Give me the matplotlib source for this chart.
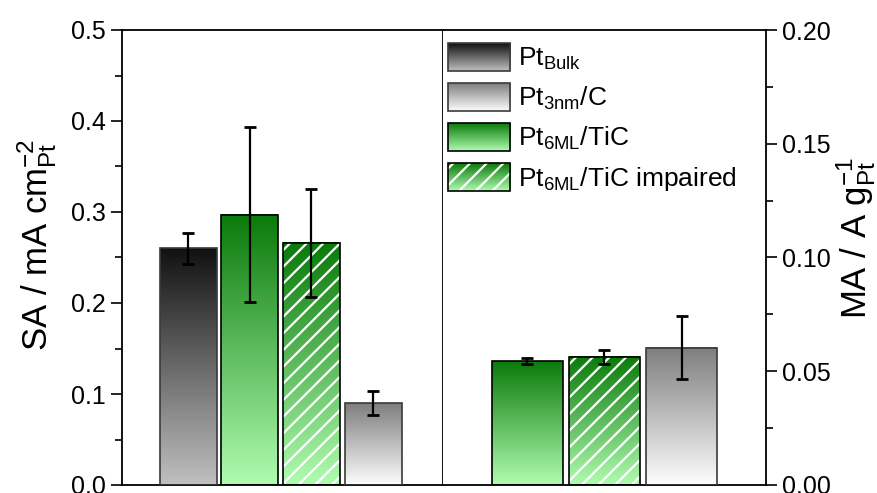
import numpy as np
import matplotlib
matplotlib.use("Agg")
import matplotlib.pyplot as plt
from matplotlib.patches import Rectangle
from matplotlib.legend_handler import HandlerBase
from matplotlib.image import BboxImage
from matplotlib.transforms import Bbox, TransformedBbox
from matplotlib.colors import to_rgb
from matplotlib.ticker import MultipleLocator, FormatStrFormatter

plt.rcParams['font.family'] = ['Liberation Sans', 'DejaVu Sans']
plt.rcParams['mathtext.fontset'] = 'custom'
plt.rcParams['mathtext.rm'] = 'Liberation Sans'
plt.rcParams['mathtext.it'] = 'Liberation Sans'
plt.rcParams['mathtext.bf'] = 'Liberation Sans:bold'
plt.rcParams['mathtext.default'] = 'regular'
plt.rcParams['hatch.linewidth'] = 1.6

# specific activity, left panel
sa_names = ['bulk', 'tic', 'tic_imp', 'c3nm']
sa_vals = [0.260, 0.297, 0.266, 0.090]
sa_err = [0.017, 0.096, 0.059, 0.013]

# mass activity, right panel
ma_names = ['tic', 'tic_imp', 'c3nm']
ma_vals = [0.0544, 0.0563, 0.0604]
ma_err = [0.0013, 0.0032, 0.0137]

legend_names = ['bulk', 'c3nm', 'tic', 'tic_imp']
legend_labels = ['Pt$_{Bulk}$', 'Pt$_{3nm}$/C', 'Pt$_{6ML}$/TiC', 'Pt$_{6ML}$/TiC impaired']

styles = {
    'bulk':    {'top': '#111111', 'bottom': '#c0c0c0', 'edge': '#3a3a3a', 'hatch': False},
    'c3nm':    {'top': '#7e7e7e', 'bottom': '#fdfdfd', 'edge': '#3a3a3a', 'hatch': False},
    'tic':     {'top': '#0a7a0a', 'bottom': '#b0fcb0', 'edge': '#000000', 'hatch': False},
    'tic_imp': {'top': '#0a7a0a', 'bottom': '#b0fcb0', 'edge': '#000000', 'hatch': True},
}


def grad(name, n=256):
    top = np.array(to_rgb(styles[name]['top']))
    bot = np.array(to_rgb(styles[name]['bottom']))
    t = np.linspace(0, 1, n)[:, None, None]
    return (1 - t) * top + t * bot


def draw_bars(ax, vals, errs, names, width):
    x = np.arange(len(vals))
    bars = ax.bar(x, vals, width, facecolor='none', linewidth=1.2, zorder=3)
    for b, n in zip(bars, names):
        b.set_edgecolor(styles[n]['edge'])
        x0, w, h = b.get_x(), b.get_width(), b.get_height()
        ax.imshow(grad(n), extent=(x0, x0 + w, 0, h), aspect='auto',
                  interpolation='bilinear', zorder=2)
        if styles[n]['hatch']:
            ax.bar(x0 + w / 2, h, w, facecolor='none', edgecolor='white',
                   hatch='//', linewidth=0, zorder=2.5)
    ax.errorbar(x, vals, yerr=errs, fmt='none', ecolor='black',
                elinewidth=1.6, capsize=4, capthick=2, zorder=4)


class GradHandler(HandlerBase):
    def create_artists(self, legend, orig_handle, xdescent, ydescent,
                       width, height, fontsize, trans):
        n = orig_handle.get_gid()
        box = Bbox.from_bounds(-xdescent, -ydescent, width, height)
        img = BboxImage(TransformedBbox(box, trans), interpolation='bilinear')
        img.set_data(grad(n))
        arts = [img]
        if styles[n]['hatch']:
            arts.append(Rectangle((-xdescent, -ydescent), width, height,
                                  facecolor='none', edgecolor='white',
                                  hatch='//', linewidth=0, transform=trans))
        arts.append(Rectangle((-xdescent, -ydescent), width, height,
                              facecolor='none', edgecolor=styles[n]['edge'],
                              linewidth=1.2, transform=trans))
        return arts


fig = plt.figure(figsize=(8.78, 4.93), dpi=100)
axl = fig.add_axes([122 / 878, 8 / 493, 321 / 878, 455 / 493])
axr = fig.add_axes([443 / 878, 8 / 493, 323 / 878, 455 / 493])

draw_bars(axl, sa_vals, sa_err, sa_names, 0.925)
draw_bars(axr, ma_vals, ma_err, ma_names, 0.91)

axl.set_xlim(-1.075, 4.136)
axl.set_ylim(0, 0.5)
axr.set_xlim(-1.097, 3.097)
axr.set_ylim(0, 0.2)

for ax in (axl, axr):
    ax.set_xticks([])
    for s in ax.spines.values():
        s.set_linewidth(1.3)
    ax.tick_params(axis='y', which='major', length=8, width=1.2, labelsize=18, direction='out')
    ax.tick_params(axis='y', which='minor', length=5, width=1.2, direction='out')

axl.yaxis.set_major_locator(MultipleLocator(0.1))
axl.yaxis.set_minor_locator(MultipleLocator(0.05))
axl.yaxis.set_major_formatter(FormatStrFormatter('%.1f'))
axl.set_ylabel('SA / mA cm$^{-2}_{Pt}$', fontsize=25, labelpad=9)
axl.yaxis.label.set_y(0.527)

axr.spines['left'].set_visible(False)
axr.yaxis.tick_right()
axr.yaxis.set_label_position('right')
axr.yaxis.set_major_locator(MultipleLocator(0.05))
axr.yaxis.set_minor_locator(MultipleLocator(0.025))
axr.yaxis.set_major_formatter(FormatStrFormatter('%.2f'))
axr.set_ylabel('MA / A g$^{-1}_{Pt}$', fontsize=25, rotation=90, labelpad=2)
axr.yaxis.label.set_y(0.543)

handles = []
for n in legend_names:
    r = Rectangle((0, 0), 1, 1)
    r.set_gid(n)
    handles.append(r)
axr.legend(handles, legend_labels, handler_map={Rectangle: GradHandler()},
           loc='upper left', bbox_to_anchor=(5 / 323, 1 - 13 / 455),
           frameon=False, fontsize=19, borderpad=0, borderaxespad=0,
           handlelength=2.35, handleheight=1.25, labelspacing=0.42,
           handletextpad=0.32)

fig.savefig('out.png', dpi=100)
